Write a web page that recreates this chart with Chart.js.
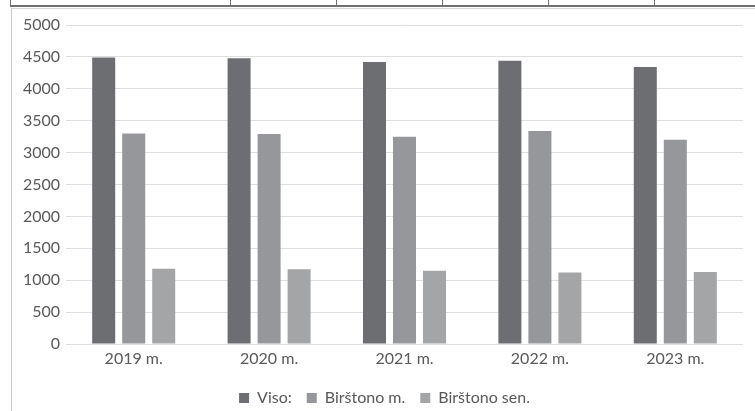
<!DOCTYPE html>
<html>
<head>
<meta charset="utf-8">
<script src="https://cdn.jsdelivr.net/npm/chart.js@4.4.0/dist/chart.umd.min.js"></script>
<style>
  html, body { margin: 0; padding: 0; background: #fff; overflow: hidden; }
  body { width: 755px; height: 411px; position: relative; }
  .line { position: absolute; }
  #wrap { position: absolute; left: 0; top: 0; width: 755px; height: 416px; }
</style>
</head>
<body>
<!-- table lines above the chart -->
<div class="line" style="left:10px;top:5px;width:745px;height:2px;background:#707070"></div>
<div class="line" style="left:10px;top:0;width:1px;height:6px;background:#707070"></div>
<div class="line" style="left:230px;top:0;width:1px;height:6px;background:#707070"></div>
<div class="line" style="left:336px;top:0;width:1px;height:6px;background:#707070"></div>
<div class="line" style="left:442px;top:0;width:1px;height:6px;background:#707070"></div>
<div class="line" style="left:548px;top:0;width:1px;height:6px;background:#707070"></div>
<div class="line" style="left:654px;top:0;width:1px;height:6px;background:#707070"></div>
<!-- chart frame -->
<div class="line" style="left:11px;top:8px;width:744px;height:1px;background:#d6d6d6"></div>
<div class="line" style="left:11px;top:8px;width:1px;height:403px;background:#c8c8c8"></div>
<div id="wrap"><canvas id="chart"></canvas></div>
<script>
// Data
const years = ['2019 m.', '2020 m.', '2021 m.', '2022 m.', '2023 m.'];
const viso = [4490, 4480, 4420, 4440, 4340];
const birstonoM = [3300, 3290, 3250, 3340, 3200];
const birstonoSen = [1180, 1170, 1150, 1120, 1130];

const textColor = '#595959';
Chart.defaults.font.family = 'Lato, "Open Sans", sans-serif';
Chart.defaults.font.size = 16;
Chart.defaults.color = textColor;

// nudge the legend to the right, where the original has it
const legendShift = {
    id: 'legendShift',
    afterLayout(chart) {
        chart.legend.left += 13;
        chart.legend.right += 13;
    }
};

const ctx = document.getElementById('chart').getContext('2d');
new Chart(ctx, {
    type: 'bar',
    data: {
        labels: years,
        datasets: [{
            label: 'Viso:',
            data: viso,
            backgroundColor: '#6d6e72'
        }, {
            label: 'Birštono m.',
            data: birstonoM,
            backgroundColor: '#96979a'
        }, {
            label: 'Birštono sen.',
            data: birstonoSen,
            backgroundColor: '#a4a5a7'
        }]
    },
    options: {
        responsive: true,
        maintainAspectRatio: false,
        animation: false,
        categoryPercentage: 0.665,
        barPercentage: 0.767,
        layout: { padding: { top: 25, right: 12, left: 0, bottom: 0 } },
        plugins: {
            tooltip: { enabled: false },
            legend: {
                position: 'bottom',
                labels: { boxWidth: 10, boxHeight: 10, padding: 15, color: textColor }
            }
        },
        scales: {
            y: {
                min: 0,
                max: 5000,
                ticks: { stepSize: 500, padding: 6, callback: v => String(v) },
                grid: { color: '#dedede', drawTicks: false },
                border: { display: false },
                afterFit: function(scale) { scale.width = 66; }
            },
            x: {
                ticks: { padding: 5 },
                grid: { display: false, drawTicks: false },
                border: { display: false },
                afterFit: function(scale) { scale.height = 31; }
            }
        }
    },
    plugins: [legendShift]
});
</script>
</body>
</html>
